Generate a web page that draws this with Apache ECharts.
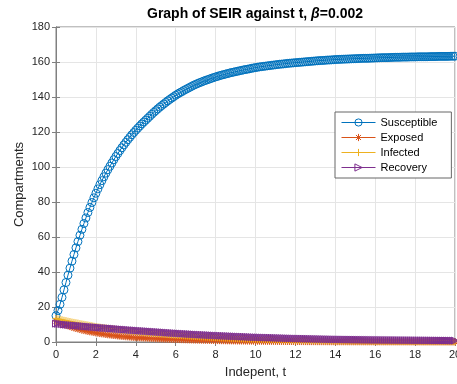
<!DOCTYPE html>
<html>
<head>
<meta charset="utf-8">
<script src="https://cdn.jsdelivr.net/npm/echarts@6/dist/echarts.min.js"></script>
<style>
  html, body { margin: 0; padding: 0; background: #fff; }
  #chart { width: 457px; height: 384px; }
</style>
</head>
<body>
<div id="chart"></div>
<script>
// sample times, step 0.1
const tVals = [
  0, 0.1, 0.2, 0.3, 0.4, 0.5, 0.6, 0.7, 0.8, 0.9,
  1.0, 1.1, 1.2, 1.3, 1.4, 1.5, 1.6, 1.7, 1.8, 1.9,
  2.0, 2.1, 2.2, 2.3, 2.4, 2.5, 2.6, 2.7, 2.8, 2.9,
  3.0, 3.1, 3.2, 3.3, 3.4, 3.5, 3.6, 3.7, 3.8, 3.9,
  4.0, 4.1, 4.2, 4.3, 4.4, 4.5, 4.6, 4.7, 4.8, 4.9,
  5.0, 5.1, 5.2, 5.3, 5.4, 5.5, 5.6, 5.7, 5.8, 5.9,
  6.0, 6.1, 6.2, 6.3, 6.4, 6.5, 6.6, 6.7, 6.8, 6.9,
  7.0, 7.1, 7.2, 7.3, 7.4, 7.5, 7.6, 7.7, 7.8, 7.9,
  8.0, 8.1, 8.2, 8.3, 8.4, 8.5, 8.6, 8.7, 8.8, 8.9,
  9.0, 9.1, 9.2, 9.3, 9.4, 9.5, 9.6, 9.7, 9.8, 9.9,
  10.0, 10.1, 10.2, 10.3, 10.4, 10.5, 10.6, 10.7, 10.8, 10.9,
  11.0, 11.1, 11.2, 11.3, 11.4, 11.5, 11.6, 11.7, 11.8, 11.9,
  12.0, 12.1, 12.2, 12.3, 12.4, 12.5, 12.6, 12.7, 12.8, 12.9,
  13.0, 13.1, 13.2, 13.3, 13.4, 13.5, 13.6, 13.7, 13.8, 13.9,
  14.0, 14.1, 14.2, 14.3, 14.4, 14.5, 14.6, 14.7, 14.8, 14.9,
  15.0, 15.1, 15.2, 15.3, 15.4, 15.5, 15.6, 15.7, 15.8, 15.9,
  16.0, 16.1, 16.2, 16.3, 16.4, 16.5, 16.6, 16.7, 16.8, 16.9,
  17.0, 17.1, 17.2, 17.3, 17.4, 17.5, 17.6, 17.7, 17.8, 17.9,
  18.0, 18.1, 18.2, 18.3, 18.4, 18.5, 18.6, 18.7, 18.8, 18.9,
  19.0, 19.1, 19.2, 19.3, 19.4, 19.5, 19.6, 19.7, 19.8, 19.9,
  20.0
]

const susceptible = [
  15.0, 18.0, 21.5, 25.5, 29.8, 34.0, 38.2, 42.2, 46.2, 50.0,
  53.8, 57.4, 61.0, 64.4, 67.7, 70.9, 74.0, 76.9, 79.7, 82.4,
  85.0, 87.5, 89.9, 92.2, 94.4, 96.5, 98.5, 100.4, 102.3, 104.2,
  106.0, 107.7, 109.4, 111.0, 112.6, 114.1, 115.6, 117.0, 118.4, 119.7,
  121.0, 122.2, 123.4, 124.6, 125.7, 126.8, 127.9, 129.0, 130.1, 131.2,
  132.2, 133.2, 134.2, 135.1, 136.0, 136.9, 137.8, 138.6, 139.4, 140.2,
  141.0, 141.7, 142.4, 143.0, 143.7, 144.3, 144.9, 145.5, 146.1, 146.7,
  147.2, 147.7, 148.2, 148.6, 149.1, 149.5, 149.9, 150.3, 150.7, 151.1,
  151.5, 151.8, 152.2, 152.5, 152.8, 153.1, 153.4, 153.7, 154.0, 154.2,
  154.5, 154.7, 155.0, 155.2, 155.5, 155.7, 155.9, 156.1, 156.4, 156.6,
  156.8, 157.0, 157.2, 157.35, 157.5, 157.65, 157.8, 157.95, 158.1, 158.25,
  158.4, 158.55, 158.7, 158.8, 158.9, 159.05, 159.2, 159.3, 159.4, 159.5,
  159.6, 159.7, 159.8, 159.9, 160.0, 160.1, 160.2, 160.3, 160.4, 160.5,
  160.6, 160.7, 160.8, 160.85, 160.9, 161.0, 161.1, 161.15, 161.2, 161.3,
  161.4, 161.45, 161.5, 161.55, 161.6, 161.65, 161.7, 161.75, 161.8, 161.85,
  161.9, 161.95, 162.0, 162.05, 162.1, 162.1, 162.1, 162.15, 162.2, 162.25,
  162.3, 162.35, 162.4, 162.45, 162.5, 162.5, 162.5, 162.55, 162.6, 162.65,
  162.7, 162.7, 162.7, 162.75, 162.8, 162.8, 162.8, 162.85, 162.9, 162.9,
  162.9, 162.95, 163.0, 163.0, 163.0, 163.0, 163.0, 163.05, 163.1, 163.1,
  163.1, 163.15, 163.2, 163.2, 163.2, 163.2, 163.2, 163.25, 163.3, 163.3,
  163.3
]

const exposed = [
  12.0, 11.5, 11.0, 10.5, 10.0, 9.6, 9.2, 8.8, 8.4, 8.0,
  7.7, 7.4, 7.1, 6.8, 6.5, 6.3, 6.0, 5.8, 5.6, 5.4,
  5.2, 5.0, 4.8, 4.6, 4.5, 4.3, 4.1, 4.0, 3.8, 3.7,
  3.6, 3.4, 3.3, 3.2, 3.1, 3.0, 2.9, 2.8, 2.7, 2.6,
  2.5, 2.44, 2.38, 2.32, 2.26, 2.2, 2.14, 2.08, 2.02, 1.96,
  1.9, 1.85, 1.8, 1.75, 1.7, 1.66, 1.62, 1.57, 1.53, 1.49,
  1.45, 1.41, 1.37, 1.33, 1.3, 1.26, 1.23, 1.19, 1.16, 1.12,
  1.09, 1.06, 1.03, 1.0, 0.97, 0.94, 0.92, 0.89, 0.87, 0.84,
  0.82, 0.8, 0.77, 0.75, 0.73, 0.71, 0.69, 0.67, 0.65, 0.63,
  0.61, 0.59, 0.58, 0.56, 0.55, 0.53, 0.52, 0.5, 0.49, 0.47,
  0.46, 0.45, 0.44, 0.42, 0.41, 0.4, 0.39, 0.38, 0.37, 0.36,
  0.35, 0.34, 0.33, 0.32, 0.31, 0.3, 0.29, 0.285, 0.28, 0.27,
  0.26, 0.255, 0.25, 0.245, 0.24, 0.23, 0.22, 0.215, 0.21, 0.205,
  0.2, 0.195, 0.19, 0.185, 0.18, 0.175, 0.17, 0.165, 0.16, 0.155,
  0.15, 0.145, 0.14, 0.135, 0.13, 0.13, 0.13, 0.125, 0.12, 0.115,
  0.11, 0.11, 0.11, 0.105, 0.1, 0.095, 0.09, 0.09, 0.09, 0.085,
  0.08, 0.08, 0.08, 0.075, 0.07, 0.07, 0.07, 0.07, 0.07, 0.065,
  0.06, 0.06, 0.06, 0.06, 0.06, 0.055, 0.05, 0.05, 0.05, 0.05,
  0.05, 0.05, 0.05, 0.045, 0.04, 0.04, 0.04, 0.04, 0.04, 0.035,
  0.03, 0.03, 0.03, 0.03, 0.03, 0.03, 0.03, 0.025, 0.02, 0.02,
  0.02
]

const infected = [
  13.5, 13.2, 12.9, 12.7, 12.4, 12.2, 11.9, 11.7, 11.4, 11.2,
  11.0, 10.8, 10.5, 10.3, 10.1, 9.9, 9.7, 9.5, 9.3, 9.0,
  8.8, 8.6, 8.5, 8.3, 8.1, 8.0, 7.8, 7.7, 7.5, 7.4,
  7.2, 7.1, 6.9, 6.8, 6.7, 6.5, 6.4, 6.3, 6.1, 6.0,
  5.9, 5.78, 5.66, 5.54, 5.42, 5.3, 5.2, 5.1, 5.0, 4.9,
  4.8, 4.71, 4.62, 4.53, 4.44, 4.35, 4.26, 4.17, 4.08, 3.99,
  3.9, 3.82, 3.74, 3.66, 3.58, 3.5, 3.42, 3.34, 3.26, 3.18,
  3.1, 3.04, 2.98, 2.92, 2.86, 2.8, 2.74, 2.68, 2.62, 2.56,
  2.5, 2.45, 2.4, 2.34, 2.29, 2.24, 2.19, 2.14, 2.1, 2.05,
  2.0, 1.96, 1.92, 1.88, 1.84, 1.8, 1.76, 1.72, 1.68, 1.64,
  1.6, 1.57, 1.54, 1.51, 1.48, 1.45, 1.42, 1.39, 1.36, 1.33,
  1.3, 1.27, 1.24, 1.21, 1.18, 1.15, 1.12, 1.09, 1.06, 1.03,
  1.0, 0.98, 0.96, 0.94, 0.92, 0.9, 0.88, 0.86, 0.84, 0.82,
  0.8, 0.78, 0.76, 0.74, 0.72, 0.7, 0.68, 0.66, 0.64, 0.62,
  0.6, 0.59, 0.58, 0.56, 0.55, 0.54, 0.53, 0.51, 0.5, 0.49,
  0.48, 0.47, 0.46, 0.455, 0.45, 0.44, 0.43, 0.425, 0.42, 0.41,
  0.4, 0.39, 0.38, 0.375, 0.37, 0.36, 0.35, 0.345, 0.34, 0.33,
  0.32, 0.315, 0.31, 0.3, 0.29, 0.285, 0.28, 0.27, 0.26, 0.255,
  0.25, 0.245, 0.24, 0.235, 0.23, 0.225, 0.22, 0.215, 0.21, 0.205,
  0.2, 0.195, 0.19, 0.185, 0.18, 0.175, 0.17, 0.165, 0.16, 0.155,
  0.15
]

const recovery = [
  10.5, 10.4, 10.3, 10.2, 10.0, 9.9, 9.8, 9.7, 9.6, 9.5,
  9.4, 9.3, 9.2, 9.1, 9.0, 8.9, 8.8, 8.7, 8.6, 8.5,
  8.4, 8.3, 8.2, 8.1, 8.0, 7.95, 7.85, 7.75, 7.7, 7.6,
  7.5, 7.4, 7.3, 7.2, 7.1, 7.05, 6.95, 6.85, 6.75, 6.7,
  6.6, 6.52, 6.44, 6.36, 6.28, 6.2, 6.12, 6.04, 5.96, 5.88,
  5.8, 5.72, 5.64, 5.56, 5.48, 5.4, 5.32, 5.24, 5.16, 5.08,
  5.0, 4.93, 4.86, 4.79, 4.72, 4.65, 4.58, 4.51, 4.44, 4.37,
  4.3, 4.24, 4.18, 4.12, 4.06, 4.0, 3.94, 3.88, 3.82, 3.76,
  3.7, 3.65, 3.6, 3.55, 3.5, 3.45, 3.4, 3.35, 3.3, 3.25,
  3.2, 3.15, 3.1, 3.05, 3.0, 2.95, 2.9, 2.85, 2.8, 2.75,
  2.7, 2.665, 2.63, 2.595, 2.56, 2.525, 2.49, 2.455, 2.42, 2.385,
  2.35, 2.315, 2.28, 2.245, 2.21, 2.175, 2.14, 2.105, 2.07, 2.035,
  2.0, 1.975, 1.95, 1.925, 1.9, 1.875, 1.85, 1.825, 1.8, 1.775,
  1.75, 1.725, 1.7, 1.675, 1.65, 1.625, 1.6, 1.575, 1.55, 1.525,
  1.5, 1.485, 1.47, 1.455, 1.44, 1.425, 1.41, 1.395, 1.38, 1.365,
  1.35, 1.335, 1.32, 1.305, 1.29, 1.275, 1.26, 1.245, 1.23, 1.215,
  1.2, 1.19, 1.18, 1.17, 1.16, 1.15, 1.14, 1.13, 1.12, 1.11,
  1.1, 1.09, 1.08, 1.07, 1.06, 1.05, 1.04, 1.03, 1.02, 1.01,
  1.0, 0.99, 0.98, 0.97, 0.96, 0.95, 0.94, 0.93, 0.92, 0.91,
  0.9, 0.89, 0.88, 0.87, 0.86, 0.85, 0.84, 0.83, 0.82, 0.81,
  0.8
]

const seriesNames = ["Susceptible", "Exposed", "Infected", "Recovery"]
const seriesColors = ["#0072BD", "#D95319", "#EDB120", "#7E2F8E"]

const FONT = "Liberation Sans, Arial, Helvetica, sans-serif"

// MATLAB-ish markers: o, *, +, >
const markers = [
  "circle",
  "path://M5,0L5,10M0,5L10,5M1.5,1.5L8.5,8.5M8.5,1.5L1.5,8.5",
  "path://M5,0L5,10M0,5L10,5",
  "path://M0,0L10,5L0,10Z"
]
const markerSizes = [8, 7, 7, 7]

const allValues = [susceptible, exposed, infected, recovery]

const chart = echarts.init(document.getElementById("chart"), null, { renderer: "canvas" })

const axisGray = "#808080"

const series = allValues.map((vals, i) => ({
  name: seriesNames[i],
  type: "line",
  data: tVals.map((t, k) => [t, vals[k]]),
  symbol: markers[i],
  symbolSize: markerSizes[i],
  showAllSymbol: true,
  clip: false,
  lineStyle: { color: seriesColors[i], width: 1 },
  itemStyle: { color: "transparent", borderColor: seriesColors[i], borderWidth: 1 },
  emphasis: { disabled: true }
}))

const option = {
  animation: false,
  backgroundColor: "#fff",
  title: {
    left: 255,
    top: 7,
    padding: 0,
    textAlign: "center",
    text: "{a|Graph of SEIR against t, }{b|β}{a|=0.002}",
    textStyle: {
      rich: {
        a: { fontFamily: FONT, fontSize: 14, fontWeight: "bold", color: "#000" },
        b: { fontFamily: FONT, fontSize: 14, fontStyle: "italic", color: "#000" }
      }
    }
  },
  legend: {
    data: seriesNames.map((n, i) => ({
      name: n,
      itemStyle: { color: "transparent", borderColor: seriesColors[i], borderWidth: 1 },
      lineStyle: { color: seriesColors[i], width: 1 }
    })),
    orient: "vertical",
    left: 335,
    top: 112,
    padding: [5, 14, 5, 6],
    itemWidth: 34,
    itemHeight: 9,
    itemGap: 4,
    backgroundColor: "#fff",
    borderColor: "#666",
    borderWidth: 1,
    borderRadius: 0,
    textStyle: { fontFamily: FONT, fontSize: 11, color: "#000" }
  },
  grid: {
    left: 56, right: 2, top: 27, bottom: 42,
    outerBoundsMode: "none",
    show: true, borderColor: axisGray, borderWidth: 1, backgroundColor: "#fff"
  },
  xAxis: [
    {
      type: "value",
      min: 0,
      max: 20,
      interval: 2,
      name: "Indepent, t",
      nameLocation: "middle",
      nameGap: 24,
      nameMoveOverlap: false,
      nameTextStyle: { fontFamily: FONT, fontSize: 13, color: "#262626" },
      axisLine: { lineStyle: { color: axisGray } },
      axisTick: { inside: true, length: 4, lineStyle: { color: axisGray } },
      axisLabel: { fontFamily: FONT, fontSize: 11, color: "#262626", margin: 7 },
      splitLine: { show: true, lineStyle: { color: "#e5e5e5" } }
    },
    {
      type: "value",
      position: "top",
      min: 0,
      max: 20,
      interval: 2,
      axisLine: { show: true, lineStyle: { color: axisGray } },
      axisTick: { inside: true, length: 4, lineStyle: { color: axisGray } },
      axisLabel: { show: false },
      splitLine: { show: false }
    }
  ],
  yAxis: [
    {
      type: "value",
      min: 0,
      max: 180,
      interval: 20,
      name: "Compartments",
      nameLocation: "middle",
      nameGap: 30,
      nameMoveOverlap: false,
      nameTextStyle: { fontFamily: FONT, fontSize: 13, color: "#262626" },
      axisLine: { show: true, lineStyle: { color: axisGray } },
      axisTick: { show: true, inside: true, length: 4, lineStyle: { color: axisGray } },
      axisLabel: { fontFamily: FONT, fontSize: 11, color: "#262626", margin: 6 },
      splitLine: { show: true, lineStyle: { color: "#e5e5e5" } }
    },
    {
      type: "value",
      position: "right",
      min: 0,
      max: 180,
      interval: 20,
      axisLine: { show: true, lineStyle: { color: axisGray } },
      axisTick: { show: true, inside: true, length: 4, lineStyle: { color: axisGray } },
      axisLabel: { show: false },
      splitLine: { show: false }
    }
  ],
  series: series
}

chart.setOption(option)
</script>
</body>
</html>
